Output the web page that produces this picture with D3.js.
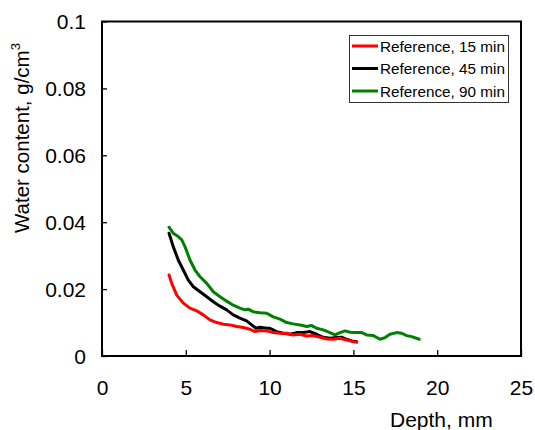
<!DOCTYPE html>
<html><head><meta charset="utf-8">
<script src="https://cdn.jsdelivr.net/npm/d3@7"></script>
<style>body{margin:0;background:#fff}svg{display:block;font-family:Arial,"Liberation Sans",sans-serif}</style>
</head><body><svg id="c" width="535" height="430"></svg>
<script>
const seriesNames = ["Reference, 15 min", "Reference, 45 min", "Reference, 90 min"];
const seriesColors = ["#ff0000", "#000000", "#008000"];
const xTicks = [0, 5, 10, 15, 20, 25];
const yTicks = [0, 0.02, 0.04, 0.06, 0.08, 0.1];
const yTickLabels = ["0", "0.02", "0.04", "0.06", "0.08", "0.1"];

const depth15 = [4.00,4.16,4.46,4.85,5.25,5.65,6.04,6.44,6.84,7.24,7.64,8.04,8.43,8.83,9.13,9.43,9.83,10.22,10.62,11.02,11.41,11.81,12.21,12.61,13.01,13.41,13.80,14.20,14.60,14.99,15.20];
const water15 = [0.0242,0.0217,0.0182,0.0158,0.0143,0.0135,0.0123,0.0108,0.0100,0.0095,0.0093,0.0088,0.0085,0.0080,0.0073,0.0076,0.0075,0.0070,0.0068,0.0068,0.0063,0.0065,0.0060,0.0061,0.0056,0.0051,0.0050,0.0053,0.0048,0.0043,0.0041];

const depth45 = [4.00,4.25,4.55,4.85,5.15,5.45,5.85,6.25,6.64,7.04,7.44,7.83,8.23,8.63,8.93,9.19,9.43,9.83,10.02,10.42,10.82,11.22,11.62,12.01,12.41,12.81,13.20,13.60,14.00,14.30,14.60,14.90,15.20];
const water45 = [0.0367,0.0327,0.0287,0.0257,0.0227,0.0207,0.0192,0.0177,0.0162,0.0149,0.0138,0.0123,0.0113,0.0105,0.0093,0.0083,0.0086,0.0083,0.0083,0.0073,0.0068,0.0065,0.0070,0.0070,0.0073,0.0065,0.0056,0.0053,0.0055,0.0056,0.0050,0.0045,0.0043];

const depth90 = [4.00,4.25,4.55,4.76,4.95,5.25,5.55,5.85,6.25,6.64,7.04,7.44,7.83,8.23,8.53,8.73,9.03,9.43,9.83,10.22,10.62,11.02,11.41,11.81,12.21,12.51,12.81,13.20,13.60,13.90,14.20,14.50,14.80,15.10,15.50,15.79,16.19,16.59,16.89,17.18,17.58,17.88,18.18,18.48,18.93];
const water90 = [0.0385,0.0367,0.0357,0.0347,0.0327,0.0287,0.0257,0.0237,0.0217,0.0192,0.0177,0.0164,0.0152,0.0143,0.0138,0.0140,0.0132,0.0129,0.0128,0.0117,0.0110,0.0100,0.0096,0.0093,0.0088,0.0091,0.0083,0.0078,0.0070,0.0063,0.0070,0.0075,0.0071,0.0070,0.0070,0.0063,0.0061,0.0050,0.0055,0.0065,0.0070,0.0068,0.0061,0.0058,0.0050];

const series = [
  {name: seriesNames[0], color: seriesColors[0], xs: depth15, ys: water15},
  {name: seriesNames[1], color: seriesColors[1], xs: depth45, ys: water45},
  {name: seriesNames[2], color: seriesColors[2], xs: depth90, ys: water90}
];

const svg = d3.select("#c");
const L = 102, R = 521, T = 21.5, B = 356;
const x = d3.scaleLinear().domain([0, 25]).range([L, R]);
const y = d3.scaleLinear().domain([0, 0.1]).range([B, T]);

const line = d3.line().x(d => x(d[0])).y(d => y(d[1]));
[2, 1, 0].forEach(i => {
  const s = series[i];
  svg.append("path")
    .datum(s.xs.map((v, j) => [v, s.ys[j]]))
    .attr("d", line).attr("fill", "none")
    .attr("stroke", s.color).attr("stroke-width", 3)
    .attr("stroke-linejoin", "round").attr("stroke-linecap", "round");
});

const xAxis = svg.append("g").attr("transform", `translate(0,${B})`)
  .call(d3.axisBottom(x).tickValues(xTicks).tickSizeInner(-6).tickSizeOuter(0).tickPadding(17));
const yAxis = svg.append("g").attr("transform", `translate(${L},0)`)
  .call(d3.axisLeft(y).tickValues(yTicks).tickFormat((d, i) => yTickLabels[i]).tickSizeInner(-5).tickSizeOuter(0).tickPadding(16));
[xAxis, yAxis].forEach(g => {
  g.select(".domain").remove();
  g.selectAll(".tick line").attr("stroke", "#000").attr("stroke-width", 1.3);
  g.selectAll(".tick text").attr("fill", "#000").style("font-size", "21px")
    .style("font-family", "Arial, 'Liberation Sans', sans-serif");
});
xAxis.selectAll(".tick text").attr("dy", null).attr("y", 38.5);
yAxis.selectAll(".tick text").attr("dy", "0.35em");

svg.append("rect").attr("x", L).attr("y", T).attr("width", R - L).attr("height", B - T)
  .attr("fill", "none").attr("stroke", "#000").attr("stroke-width", 2);

svg.append("text").attr("x", 390).attr("y", 427).attr("font-size", 21).attr("fill", "#000").text("Depth, mm");
const yt = svg.append("text").attr("transform", "translate(28.5,233) rotate(-90)")
  .attr("font-size", 20.5).attr("fill", "#000");
yt.append("tspan").text("Water content, g/cm");
yt.append("tspan").attr("font-size", 13).attr("dy", -9).text("3");

const lg = svg.append("g");
lg.append("rect").attr("x", 349.5).attr("y", 35.5).attr("width", 159).attr("height", 67)
  .attr("fill", "#fff").attr("stroke", "#333").attr("stroke-width", 1);
const rowY = [46, 68.5, 91];
series.forEach((s, i) => {
  lg.append("line").attr("x1", 352).attr("x2", 378).attr("y1", rowY[i]).attr("y2", rowY[i])
    .attr("stroke", s.color).attr("stroke-width", 3);
  lg.append("text").attr("x", 380).attr("y", rowY[i] + 5.5).attr("font-size", 15.3).attr("fill", "#000").text(s.name);
});
</script></body></html>
